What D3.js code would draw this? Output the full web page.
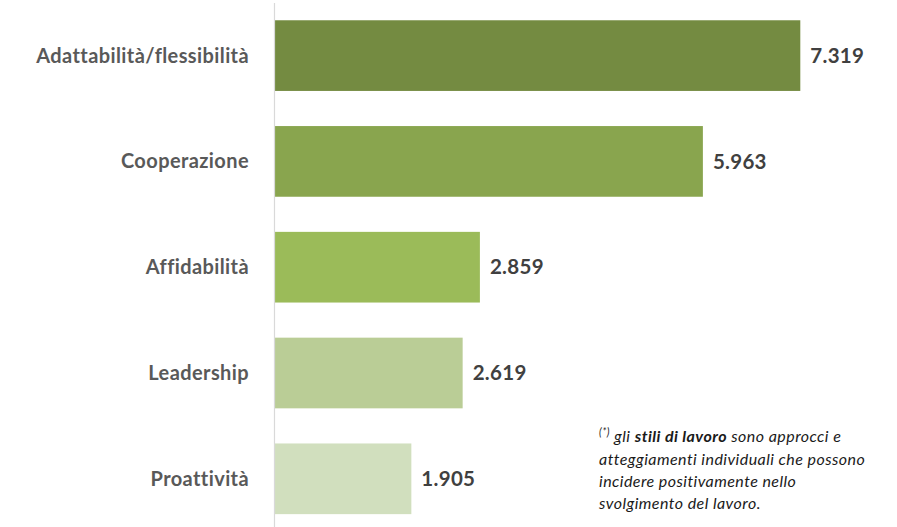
<!DOCTYPE html>
<html><head><meta charset="utf-8">
<script src="https://cdn.jsdelivr.net/npm/d3@7"></script>
<style>body{margin:0;background:#fff}svg{display:block}</style>
</head><body>
<svg id="c" width="897" height="527"></svg>
<script>
const categories = ["Adattabilità/flessibilità","Cooperazione","Affidabilità","Leadership","Proattività"];
const values = [7.319, 5.963, 2.859, 2.619, 1.905];
const valueLabels = ["7.319","5.963","2.859","2.619","1.905"];
const colors = ["#748b41","#89a54e","#9bbb59","#bacd96","#d1dfbe"];

const svg = d3.select("#c");
const x0 = 274.5;
const x = d3.scaleLinear().domain([0, 7.319]).range([x0, 800.3]);
const y = d3.scaleBand().domain(categories).range([2.7, 531.7]).paddingInner(0.332).paddingOuter(0.166);

svg.selectAll("rect.bar").data(categories).join("rect")
  .attr("class","bar")
  .attr("x", x(0))
  .attr("y", d => y(d))
  .attr("width", (d,i) => x(values[i]) - x(0))
  .attr("height", y.bandwidth())
  .attr("fill", (d,i) => colors[i]);

svg.append("line").attr("x1",x0).attr("x2",x0).attr("y1",3).attr("y2",527)
  .attr("stroke","#d9d9d9").attr("stroke-width",1.2);

const font = "Lato, 'Open Sans', sans-serif";
svg.selectAll("text.cat").data(categories).join("text")
  .attr("class","cat")
  .attr("x", 249)
  .attr("y", d => y(d) + y.bandwidth()/2)
  .attr("dy","0.35em")
  .attr("text-anchor","end")
  .attr("font-family", font)
  .attr("font-weight","bold")
  .attr("font-size", 20)
  .attr("letter-spacing", 0.4)
  .attr("fill","#595959")
  .text(d => d);

svg.selectAll("text.val").data(categories).join("text")
  .attr("class","val")
  .attr("x", (d,i) => x(values[i]) + 10)
  .attr("y", d => y(d) + y.bandwidth()/2)
  .attr("dy","0.35em")
  .attr("font-family", font)
  .attr("font-weight","bold")
  .attr("font-size", 20.5)
  .attr("letter-spacing", 0.3)
  .attr("fill","#404040")
  .text((d,i) => valueLabels[i]);

// footnote
const note = svg.append("g").attr("font-family", font).attr("font-style","italic")
  .attr("font-size", 16).attr("letter-spacing", 0.45).attr("fill","#1a1a1a");
const l1 = note.append("text").attr("x", 599).attr("y", 442);
l1.append("tspan").attr("font-size", 10.5).attr("dy", -6).text("(*)");
l1.append("tspan").attr("dy", 6).text(" gli ");
l1.append("tspan").attr("font-weight","bold").text("stili di lavoro");
l1.append("tspan").text(" sono approcci e");
note.append("text").attr("x",599).attr("y",464.5).text("atteggiamenti individuali che possono");
note.append("text").attr("x",599).attr("y",486.5).text("incidere positivamente nello");
note.append("text").attr("x",599).attr("y",508.5).text("svolgimento del lavoro.");
</script>
</body></html>
